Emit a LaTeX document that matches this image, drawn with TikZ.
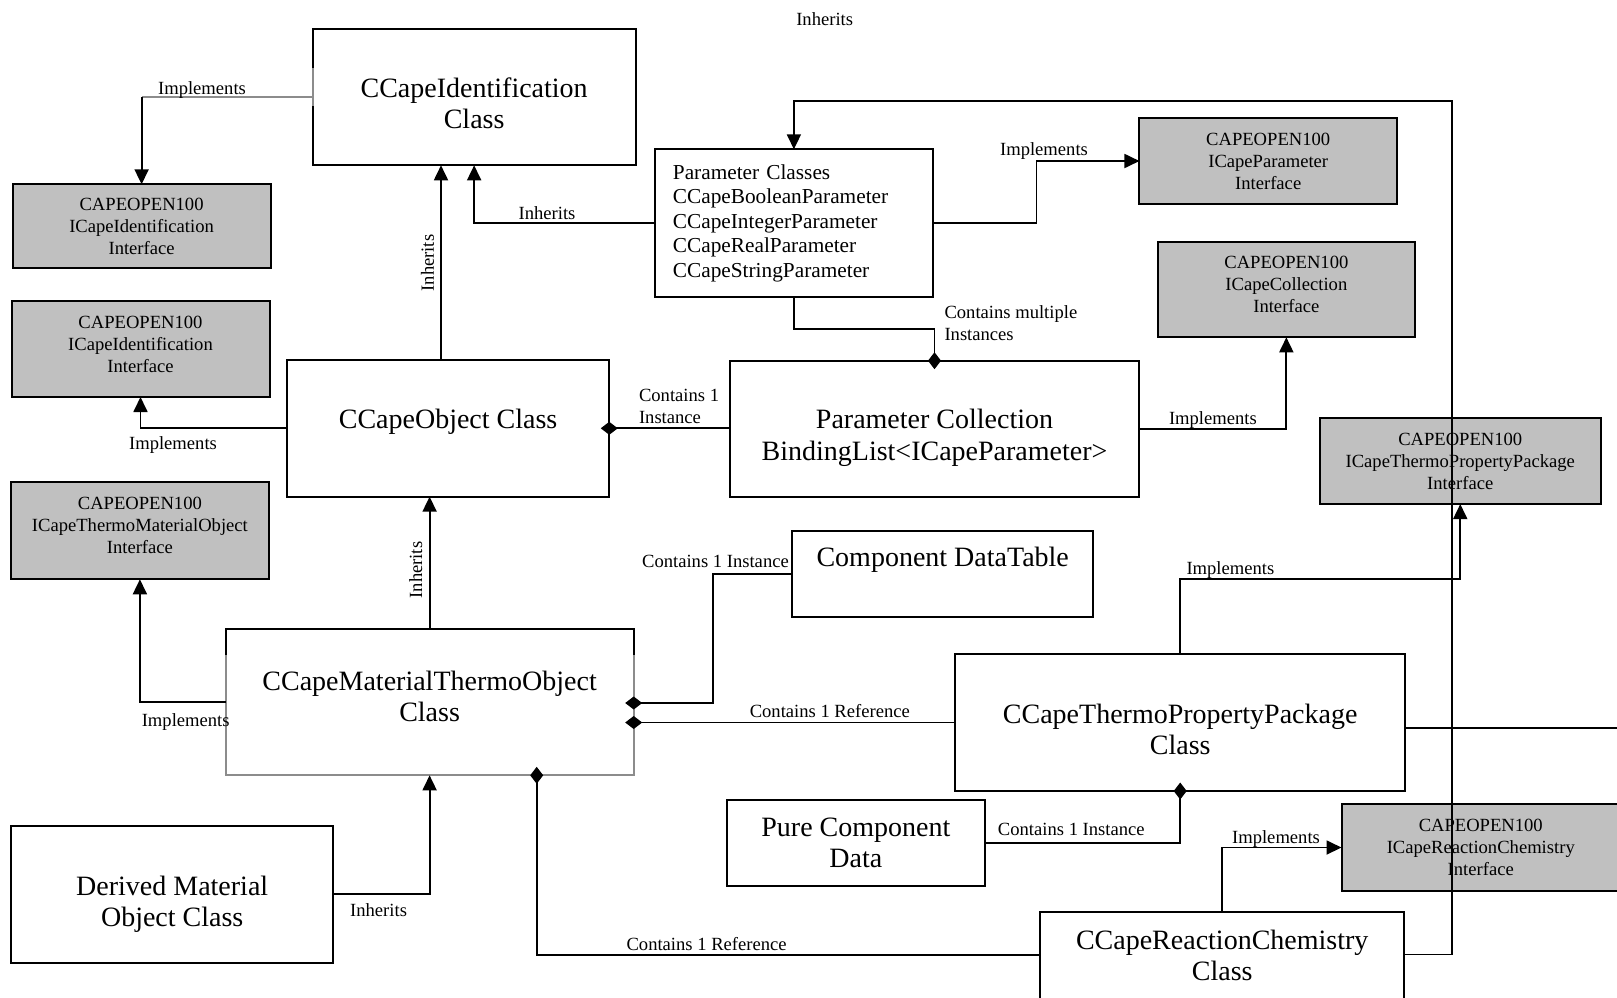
\documentclass[tikz,border=0pt]{standalone}
\usepackage{fontspec}
\setmainfont{Liberation Serif}
\usetikzlibrary{arrows.meta}
\definecolor{ifacefill}{RGB}{192,192,192}
\definecolor{paleedge}{RGB}{140,140,140}
\newcommand\boxfont{\fontsize{28}{31.5}\selectfont}
\newcommand\ifacefont{\fontsize{18.6}{22}\selectfont}
\newcommand\paramfont{\fontsize{21.3}{24.5}\selectfont}
\newcommand\lblfont{\fontsize{18.6}{22.4}\selectfont}
\begin{document}
\begin{tikzpicture}[x=1pt,y=-1pt,
  box/.style={draw,line width=2pt,inner sep=0pt,outer sep=0pt},
  iface/.style={box,fill=ifacefill},
  title/.style={inner sep=0pt,align=center,font=\boxfont},
  ifacetext/.style={inner sep=0pt,align=center,font=\ifacefont},
  conn/.style={line width=1.8pt},
  arr/.style={conn,-{Triangle[width=14pt,length=15pt]}},
  dia/.style={conn,{Diamond[length=17pt,width=13pt]}-,shorten <=-8.5pt},
  lbl/.style={inner sep=0pt,font=\lblfont,anchor=mid,yshift=-4pt},
  vlbl/.style={inner sep=0pt,font=\lblfont,anchor=mid,rotate=90},
  blocklbl/.style={inner sep=0pt,font=\lblfont,align=left,anchor=west}]

\fill[white] (0,0) rectangle (1617,997);
\useasboundingbox (0,0) rectangle (1617,997);

% ---------- classes ----------
\node[box,minimum width=322.9pt,minimum height=136.6pt] (ident) at (474.15,97) {};
\node[box,minimum width=322.3pt,minimum height=136.7pt] (obj) at (448.1,428.3) {};
\node[box,font=\paramfont,align=left,text width=242pt,inner xsep=18.4pt,minimum height=147.4pt] (params) at (793.9,223)
  {Parameter Classes\\CCapeBooleanParameter\\CCapeIntegerParameter\\CCapeRealParameter\\CCapeStringParameter};
\node[box,minimum width=408.2pt,minimum height=136pt] (coll) at (934.5,428.7) {};
\node[box,minimum width=300.6pt,minimum height=85.7pt] (table) at (942.7,573.9) {};
\node[box,draw=paleedge,minimum width=408.2pt,minimum height=146pt] (mto) at (429.6,702.3) {};
\node[box,minimum width=450.3pt,minimum height=137pt] (tpp) at (1180.2,722.5) {};
\node[box,minimum width=257.8pt,minimum height=85.7pt] (pure) at (855.9,842.9) {};
\node[box,minimum width=363.6pt,minimum height=90pt] (rc) at (1222.2,956.7) {};
\node[box,minimum width=322pt,minimum height=136.7pt] (derived) at (172.2,894.3) {};

\node[title] (identT) at ([yshift=-6.2pt]ident.center) {CCapeIdentification\\Class};
\node[title] (objT) at ([yshift=6.2pt]obj.center) {CCapeObject Class};
\node[title] (collT) at ([yshift=-9.3pt]coll.center) {Parameter Collection\\BindingList<ICapeParameter>};
\node[title] (tableT) at ([yshift=1pt]table.center) {Component DataTable\\\mbox{}};
\node[title] (mtoT) at ([yshift=5.8pt]mto.center) {CCapeMaterialThermoObject\\Class};
\node[title] (tppT) at ([yshift=-6.7pt]tpp.center) {CCapeThermoPropertyPackage\\Class};
\node[title] (pureT) at (pure.center) {Pure Component\\Data};
\node[title] (rcT) at ([yshift=1.5pt]rc.center) {CCapeReactionChemistry\\Class};
\node[title] (derivedT) at ([yshift=-9.8pt]derived.center) {Derived Material\\Object Class};

% ---------- interfaces ----------
\node[iface,minimum width=258pt,minimum height=84pt] (ifident) at (141.6,226.3) {};
\node[iface,minimum width=258pt,minimum height=96pt] (ifidobj) at (140.5,349) {};
\node[iface,minimum width=258.3pt,minimum height=97pt] (ifmat) at (139.9,530.8) {};
\node[iface,minimum width=257.5pt,minimum height=86pt] (ifparam) at (1268.2,161) {};
\node[iface,minimum width=256.9pt,minimum height=95.6pt] (ifcoll) at (1286.35,289.5) {};
\node[iface,minimum width=280.7pt,minimum height=85.7pt] (iftpp) at (1460.25,461.2) {};
\node[iface,minimum width=278.5pt,minimum height=86.4pt] (ifrc) at (1480.75,847.5) {};

\node[ifacetext] (ifidentT) at (ifident.center) {CAPEOPEN100\\ICapeIdentification\\Interface};
\node[ifacetext] (ifidobjT) at ([yshift=5pt]ifidobj.center) {CAPEOPEN100\\ICapeIdentification\\Interface};
\node[ifacetext] (ifmatT) at ([yshift=5.5pt]ifmat.center) {CAPEOPEN100\\ICapeThermoMaterialObject\\Interface};
\node[ifacetext] (ifparamT) at (ifparam.center) {CAPEOPEN100\\ICapeParameter\\Interface};
\node[ifacetext] (ifcollT) at ([yshift=5pt]ifcoll.center) {CAPEOPEN100\\ICapeCollection\\Interface};
\node[ifacetext] (iftppT) at (iftpp.center) {CAPEOPEN100\\ICapeThermoPropertyPackage\\Interface};
\node[ifacetext] (ifrcT) at (ifrc.center) {CAPEOPEN100\\ICapeReactionChemistry\\Interface};

% faint edge segments
\draw[paleedge,line width=2pt] (ident.west |- 0,68) -- (ident.west |- 0,106);
\draw[line width=2pt] (mto.west |- 0,655) -- (mto.north west) -- (mto.north east) -- (mto.east |- 0,655);

% ---------- connectors ----------
\draw[conn,paleedge,line width=1.4pt] (ident.west) -- (ifident.north |- ident.west);
\draw[arr] (ifident.north |- ident.west) -- (ifident.north);
\draw[arr] (obj.north -| 441,0) -- (ident.south -| 441,0);
\draw[arr] (params.west) -| (ident.south);
\coordinate (loopTop) at (1452,101);
\draw[arr] (rc.east |- 0,954.4) -| (loopTop) -| (params.north);
\draw[arr] (params.east) -- (params.east -| 1036.4,0) |- (ifparam.west);
\draw[dia] (coll.north) |- (params.south |- 0,329) -- (params.south);
\draw[dia] (obj.east) -- (obj.east -| coll.west);
\draw[arr] (obj.west) -| (ifidobj.south);
\draw[arr] (coll.east) -| (ifcoll.south);
\draw[arr] (mto.north) -- (mto.north |- obj.south);
\draw[arr] (mto.west) -| (ifmat.south);
\draw[dia] (mto.east |- 0,703) -| (table.west -| 712.9,0) -- (table.west);
\draw[dia] (mto.east |- tpp.west) -- (tpp.west);
\draw[arr] (tpp.north) |- (iftpp.south |- 0,579) -- (iftpp.south);
\coordinate (offRight) at (1630,728.3);
\draw[conn] (tpp.east |- offRight) -- (offRight);
\draw[dia] (tpp.south) |- (pure.east);
\draw[arr] (rc.north) |- (ifrc.west);
\draw[arr] (derived.east) -| (mto.south);
\draw[dia] (mto.south -| 536.7,0) |- (rc.west |- 0,954.6);

% ---------- labels ----------
\node[lbl] (lInhTop) at (824.7,19.3) {Inherits};
\node[lbl] (lImpA) at (202,87.7) {Implements};
\node[lbl] (lInhB) at (547,213.3) {Inherits};
\node[vlbl] (lInhC) at (431.5,263) {Inherits};
\node[lbl] (lImpD) at (1044,149.3) {Implements};
\node[blocklbl] (lMulti) at (944.3,323.3) {Contains multiple\\Instances};
\node[blocklbl] (lOne) at (638.8,406.5) {Contains 1\\Instance};
\node[lbl] (lImpE) at (173,443.3) {Implements};
\node[lbl] (lImpF) at (1212.9,418.3) {Implements};
\node[lbl,anchor=mid east] (lTab) at (789,561) {Contains 1 Instance};
\node[vlbl] (lInhG) at (419.8,570) {Inherits};
\node[lbl] (lImpH) at (185.7,720) {Implements};
\node[lbl] (lRefA) at (829.8,711) {Contains 1 Reference};
\node[lbl] (lImpI) at (1230.4,567.7) {Implements};
\node[lbl] (lPure) at (1071.3,829.3) {Contains 1 Instance};
\node[lbl] (lImpJ) at (1276,837.3) {Implements};
\node[lbl] (lInhK) at (378.6,910) {Inherits};
\node[lbl] (lRefB) at (706.6,944) {Contains 1 Reference};
\end{tikzpicture}
\end{document}
